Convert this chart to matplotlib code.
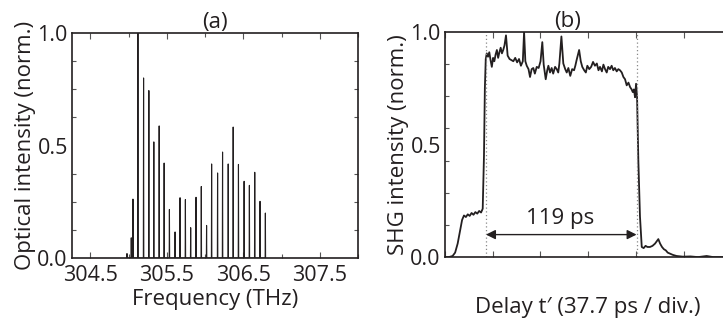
import numpy as np
import matplotlib.pyplot as plt
from matplotlib.ticker import MultipleLocator, NullFormatter

plt.rcParams['font.family'] = ['Open Sans', 'DejaVu Sans']
plt.rcParams['font.size'] = 16
ink = '#231f20'

# (a) comb lines: frequency (THz) and normalised height
freqs = [304.979, 305.035, 305.057, 305.122, 305.196, 305.265, 305.330, 305.400,
         305.465, 305.534, 305.608, 305.673, 305.743, 305.812, 305.882, 305.951,
         306.020, 306.086, 306.164, 306.229, 306.303, 306.368, 306.437, 306.511,
         306.580, 306.650, 306.719, 306.789]
heights = [0.02, 0.09, 0.262, 1.0, 0.80, 0.744, 0.516, 0.587,
           0.422, 0.216, 0.116, 0.268, 0.26, 0.135, 0.27, 0.318,
           0.145, 0.418, 0.378, 0.471, 0.418, 0.582, 0.416, 0.341,
           0.323, 0.381, 0.252, 0.20]

# (b) SHG cross-correlation trace: delay (ps) and normalised intensity
delay = [0, 3, 6, 8, 10, 12, 13.5, 15, 16.5, 18, 19.5, 21, 22.5, 24, 25.5, 27, 28.5, 29.8,
         30.8, 31.5, 32.2, 33, 34, 35, 36, 37, 38, 39, 40, 41, 42, 43, 44, 45, 46, 47, 48.2,
         49.5, 51, 52.5, 54, 55.5, 57, 58.5, 60, 61.5, 62.5, 63.5, 64.6, 66, 67.2, 68.5, 69.8,
         71, 72.5, 74, 75.5, 76.9, 78, 79.6, 80.8, 81.7, 83, 84.3, 85.5, 87, 88.3, 89.5, 90.4,
         92, 93.5, 95, 96.2, 97.5, 99, 100.5, 102, 103, 104, 106, 107.3, 108.5, 110, 111.3,
         112.5, 114, 115.5, 117, 118.5, 120, 121.3, 122.5, 124, 125.2, 126.5, 127.8, 129, 130.4,
         131.7, 133, 134.3, 135.7, 137, 138.3, 139.7, 141, 142.3, 143.6, 145, 146.3, 147.5,
         148.4, 149.3, 150.2, 151, 151.8, 152.8, 154.1, 155.5, 157, 158.5, 160, 162, 164, 166,
         168.6, 170, 171.5, 173, 174.5, 176, 178, 180, 183, 188, 194, 200, 206.8, 212, 219.5]
shg = [0, 0, 0.005, 0.02, 0.06, 0.12, 0.165, 0.185, 0.178, 0.19, 0.183, 0.196, 0.188, 0.2, 0.193,
       0.205, 0.198, 0.215, 0.45, 0.75, 0.88, 0.905, 0.89, 0.91, 0.875, 0.845, 0.885, 0.87, 0.9,
       0.92, 0.885, 0.91, 0.93, 0.905, 0.92, 0.94, 0.985, 0.895, 0.88, 0.875, 0.87, 0.885, 0.865,
       0.88, 0.85, 0.87, 1.0, 0.87, 0.85, 0.835, 0.80, 0.835, 0.84, 0.815, 0.845, 0.84, 0.87,
       0.955, 0.855, 0.79, 0.83, 0.85, 0.82, 0.84, 0.815, 0.845, 0.835, 0.82, 0.86, 0.98, 0.86,
       0.835, 0.82, 0.84, 0.805, 0.835, 0.83, 0.85, 0.875, 0.92, 0.87, 0.845, 0.83, 0.82, 0.85,
       0.835, 0.845, 0.867, 0.85, 0.86, 0.83, 0.845, 0.825, 0.855, 0.835, 0.82, 0.845, 0.835,
       0.85, 0.83, 0.84, 0.825, 0.835, 0.83, 0.82, 0.80, 0.79, 0.763, 0.775, 0.755, 0.745,
       0.733, 0.745, 0.71, 0.77, 0.71, 0.43, 0.18, 0.045, 0.04, 0.05, 0.045, 0.045, 0.05, 0.06,
       0.08, 0.06, 0.045, 0.035, 0.03, 0.02, 0.015, 0.01, 0.005, 0.002, 0.003, 0.0, 0.005, 0.0,
       0.0]

div_ps = 37.7
fwhm_left, fwhm_right = 32.4, 151.4
fwhm_label = '119 ps'

fig = plt.figure(figsize=(7.23, 3.23), dpi=100)
ax1 = fig.add_axes([0.0996, 0.201, 0.3955, 0.697])
ax2 = fig.add_axes([0.6155, 0.204, 0.3955, 0.697])

# spectrum drawn as narrow spikes on the baseline
hw = 0.003
xs, ys = [], []
for f, h in zip(freqs, heights):
    xs += [f - hw, f, f + hw]
    ys += [0, h, 0]
ax1.plot(xs, ys, color=ink, lw=0.8)
ax1.set_xlim(304.26, 308.0)
ax1.set_ylim(0, 1.0)
ax1.set_xticks([304.5, 305.5, 306.5, 307.5])
ax1.xaxis.set_minor_locator(MultipleLocator(0.5))
ax1.set_yticks([0, 0.5, 1.0])
ax1.set_yticklabels(['0.0', '0.5', '1.0'])
ax1.yaxis.set_minor_locator(MultipleLocator(0.125))
ax1.set_xlabel('Frequency (THz)', color=ink, labelpad=2)
ax1.set_ylabel('Optical intensity (norm.)', color=ink, labelpad=1)
ax1.set_title('(a)', color=ink, fontsize=16, pad=3)

ax2.plot(delay, shg, color=ink, lw=1.3)
ax2.axvline(fwhm_left, color='#888888', lw=0.9, ls=(0, (1, 2)))
ax2.axvline(fwhm_right, color='#888888', lw=0.9, ls=(0, (1, 2)))
ax2.annotate('', xy=(fwhm_left, 0.10), xytext=(fwhm_right, 0.10),
             arrowprops=dict(arrowstyle='<|-|>', color=ink, lw=1.0,
                             shrinkA=0, shrinkB=0, mutation_scale=14))
ax2.text((fwhm_left + fwhm_right) / 2 - 1, 0.125, fwhm_label, ha='center', va='bottom',
         color=ink, fontsize=16)
ax2.set_xlim(0, 226)
ax2.set_ylim(0, 1.0)
ax2.xaxis.set_major_locator(MultipleLocator(div_ps))
ax2.xaxis.set_major_formatter(NullFormatter())
ax2.set_yticks([0, 0.5, 1.0])
ax2.set_yticklabels(['0.0', '0.5', '1.0'])
ax2.yaxis.set_minor_locator(MultipleLocator(1 / 7))
ax2.set_ylabel('SHG intensity (norm.)', color=ink, labelpad=1)
ax2.set_title('(b)', color=ink, fontsize=16, pad=3, x=0.43)

for ax in (ax1, ax2):
    for s in ax.spines.values():
        s.set_color(ink)
        s.set_linewidth(1.2)
    ax.tick_params(which='both', direction='in', top=True, right=True, color='#555555',
                   labelcolor=ink, labelsize=15.5)
    ax.tick_params(which='major', length=4, width=0.8, pad=5)
    ax.tick_params(which='minor', length=3, width=0.8)
    ax.tick_params(axis='y', which='major', length=0, pad=3)

ax2.tick_params(axis='x', which='major', pad=3)
ax2.set_xlabel('Delay t\u2032 (37.7 ps / div.)', color=ink, labelpad=26)

fig.savefig('out.png', dpi=100)
